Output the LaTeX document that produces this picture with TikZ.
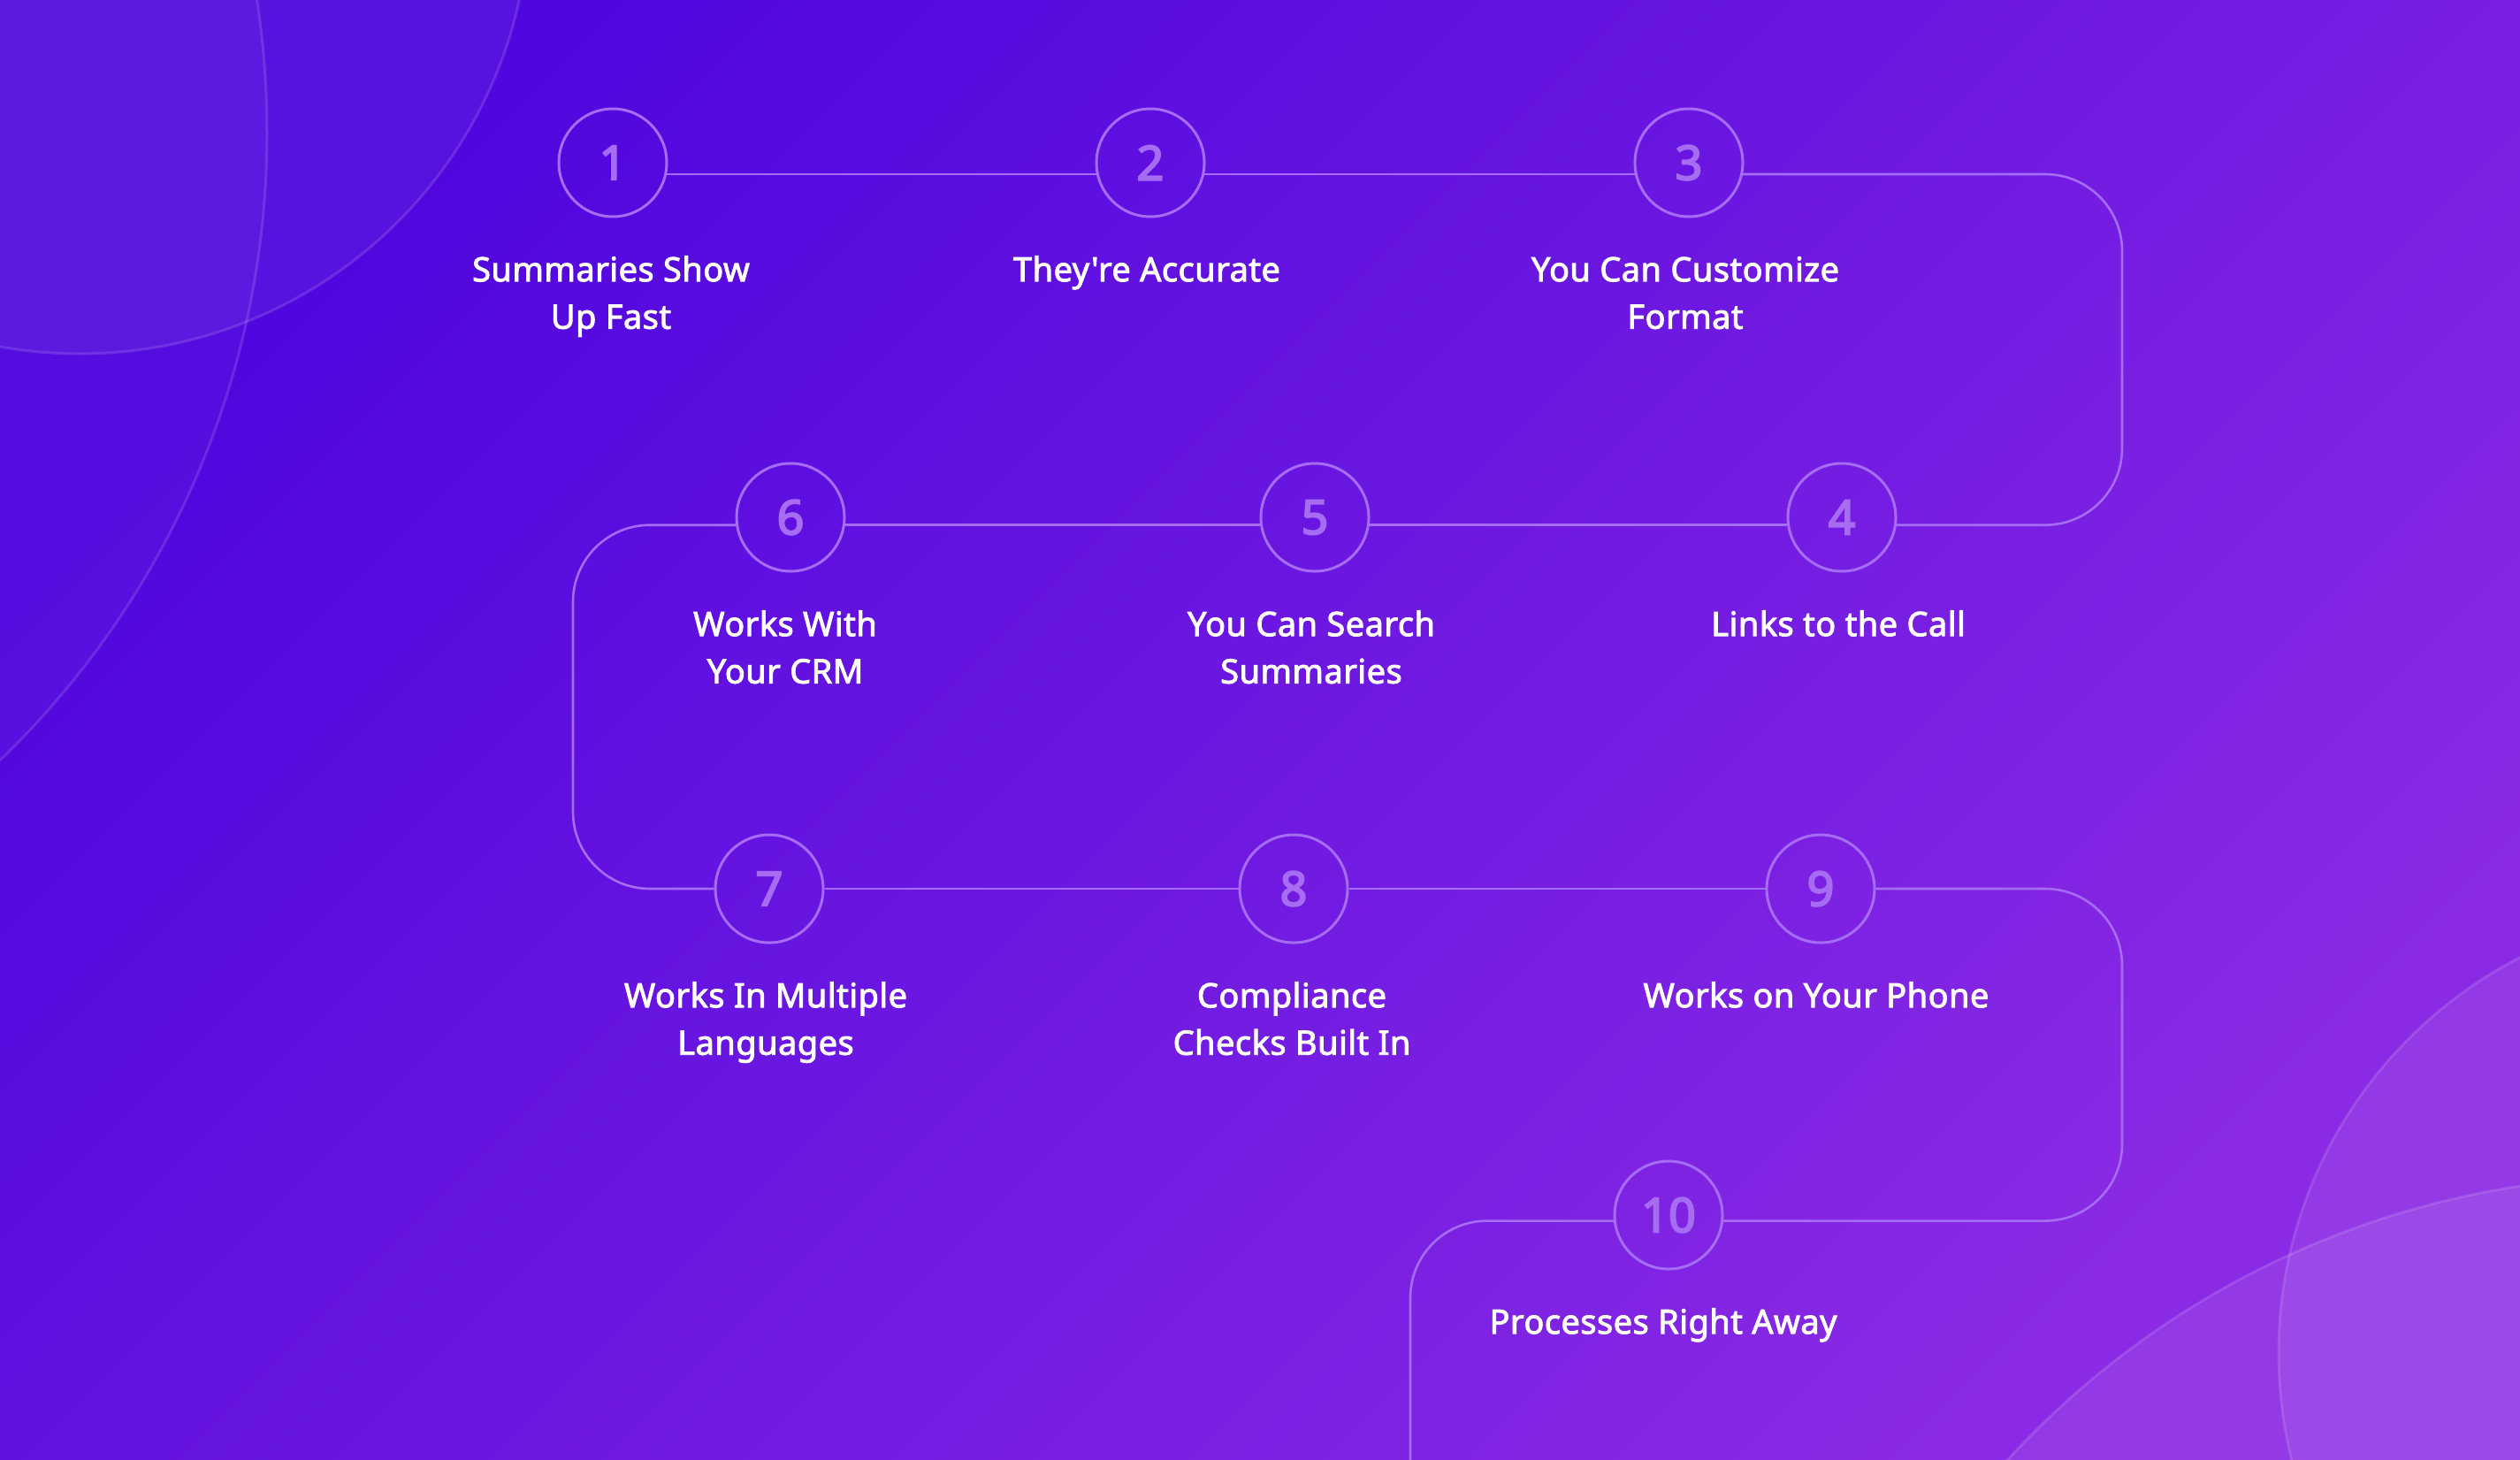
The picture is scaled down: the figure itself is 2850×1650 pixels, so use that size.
\documentclass[tikz,border=0pt]{standalone}
\usepackage{fontspec}
\newfontfamily\lblfont{Noto Sans}[FakeBold=2.4, LetterSpace=1.2]
\newfontfamily\numfont{Noto Sans}[FakeBold=3.5]
\definecolor{bgA}{HTML}{5006DE}
\definecolor{bgB}{HTML}{8A2AE4}
\definecolor{pathc}{HTML}{A66CF4}
\definecolor{numc}{HTML}{A66CF2}
\newcommand\lblstrut{\rule{0pt}{32pt}}
\begin{document}
\begin{tikzpicture}[x=1pt,y=-1pt,
  stepnum/.style={circle, draw=pathc, line width=3pt, minimum size=122pt, inner sep=0pt,
    text=numc, font=\numfont\fontsize{54}{54}\selectfont},
  conn/.style={draw=pathc, line width=2.6pt, rounded corners=87pt},
  lbl/.style={text=white, align=center, anchor=north, inner sep=0pt,
    font=\lblfont\fontsize{38}{53.5}\selectfont},
  decofill/.style={fill=white, fill opacity=#1},
  decoline/.style={draw=white, draw opacity=0.13, line width=3pt}]
\useasboundingbox (0,0) rectangle (2850,1650);
% background
\begin{scope}
\clip (0,0) rectangle (2850,1650);
\shade[top color=bgA, bottom color=bgB, shading angle=45] (0,0) rectangle (2850,1650);
\fill[decofill=0.03] (-683,150) circle (985pt);
\fill[decofill=0.05] (90,-109) circle (509pt);
\fill[decofill=0.08] (3080,1530) circle (503pt);
\fill[decofill=0.08] (3000,2320) circle (990pt);
\draw[decoline] (-683,150) circle (985pt);
\draw[decoline] (90,-109) circle (509pt);
\draw[decoline] (3080,1530) circle (503pt);
\draw[decoline] (3000,2320) circle (990pt);
\end{scope}
% step circles
\node[stepnum] (c1) at (693,184) {1};
\node[stepnum] (c2) at (1301,184) {2};
\node[stepnum] (c3) at (1910,184) {3};
\node[stepnum] (c4) at (2083,585) {4};
\node[stepnum] (c5) at (1487,585) {5};
\node[stepnum] (c6) at (894,585) {6};
\node[stepnum] (c7) at (870,1005) {7};
\node[stepnum] (c8) at (1463,1005) {8};
\node[stepnum] (c9) at (2059,1005) {9};
\node[stepnum] (c10) at (1887,1374) {10};
% bend helpers
\coordinate (rt1) at (2400,400);
\coordinate (lf1) at (648,800);
\coordinate (rt2) at (2400,1200);
\coordinate (bt1) at (1595,1660);
% connectors
\draw[conn] (c1.-12) -- (c2.192);
\draw[conn] (c2.-12) -- (c3.192);
\draw[conn] (c3.-12) -| (rt1) |- (c4.-8.5);
\draw[conn] (c4.188.5) -- (c5.-8.5);
\draw[conn] (c5.188.5) -- (c6.-8.5);
\draw[conn] (c6.188.5) -| (lf1) |- (c7.west);
\draw[conn] (c7.east) -- (c8.west);
\draw[conn] (c8.east) -- (c9.west);
\draw[conn] (c9.east) -| (rt2) |- (c10.-6.6);
\draw[conn] (c10.186.6) -| (bt1);
% labels
\node[lbl] (l1) at (691,286) {\lblstrut Summaries Show\\Up Fast};
\node[lbl] (l2) at (1297,286) {\lblstrut They're Accurate};
\node[lbl] (l3) at (1906,286) {\lblstrut You Can Customize\\Format};
\node[lbl] (l4) at (2079,687) {\lblstrut Links to the Call};
\node[lbl] (l5) at (1483,687) {\lblstrut You Can Search\\Summaries};
\node[lbl] (l6) at (888,687) {\lblstrut Works With\\Your CRM};
\node[lbl] (l7) at (866,1107) {\lblstrut Works In Multiple\\Languages};
\node[lbl] (l8) at (1461,1107) {\lblstrut Compliance\\Checks Built In};
\node[lbl] (l9) at (2054,1107) {\lblstrut Works on Your Phone};
\node[lbl] (l10) at (1881,1476) {\lblstrut Processes Right Away};
\end{tikzpicture}
\end{document}
